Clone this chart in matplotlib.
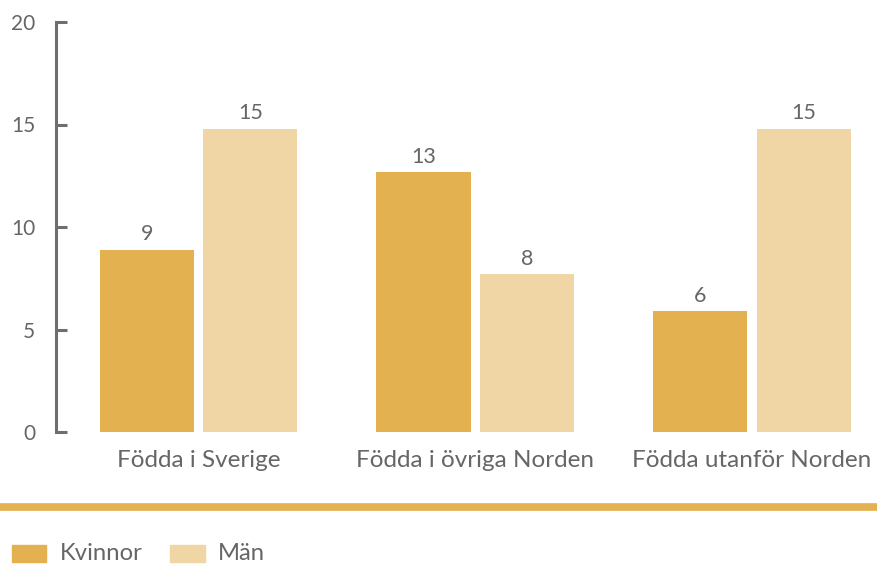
import matplotlib
matplotlib.use("Agg")
import matplotlib.pyplot as plt
from matplotlib.patches import Rectangle
from matplotlib.lines import Line2D
import numpy as np

categories = ["Födda i Sverige", "Födda i övriga Norden", "Födda utanför Norden"]
kvinnor = [8.9, 12.7, 5.9]
man = [14.8, 7.7, 14.8]
series_names = ["Kvinnor", "Män"]
yticks = [0, 5, 10, 15, 20]

c_dark = "#E3B14F"
c_light = "#F0D6A5"
c_text = "#666666"
c_axis = "#6E6E6E"

plt.rcParams['font.family'] = ['Lato', 'DejaVu Sans']

W, H = 877, 564
fig = plt.figure(figsize=(W / 100, H / 100), dpi=100)
ax_left, ax_right, ax_bottom, ax_top = 56, 877, 432, 22
ax = fig.add_axes([ax_left / W, (H - ax_bottom) / H,
                   (ax_right - ax_left) / W, (ax_bottom - ax_top) / H])

x = np.arange(len(categories))
bw = 0.34
off = 0.187
b1 = ax.bar(x - off, kvinnor, width=bw, color=c_dark)
b2 = ax.bar(x + off, man, width=bw, color=c_light)
for bars, vals in ((b1, kvinnor), (b2, man)):
    for b, v in zip(bars, vals):
        ax.text(b.get_x() + b.get_width() / 2, v + 0.25, f"{round(v)}",
                ha="center", va="bottom", fontsize=15.5, color=c_text)

ax.set_xlim(-0.515, 2.452)
ax.set_ylim(0, 20)
ax.set_yticks(yticks)
ax.set_yticklabels([str(t) for t in yticks])
ax.tick_params(axis="y", direction="in", length=8, width=2.2, color=c_axis,
               labelsize=15, labelcolor=c_text, pad=15)
ax.set_xticks(x)
ax.set_xticklabels(categories)
ax.tick_params(axis="x", length=0, labelsize=17.5, labelcolor=c_text, pad=13)
for s in ("top", "right", "bottom"):
    ax.spines[s].set_visible(False)
ax.spines["left"].set_color(c_axis)
ax.spines["left"].set_linewidth(2.2)

# gold separator line
fig.add_artist(Line2D([0, 1], [(H - 506.5) / H] * 2, color=c_dark, linewidth=5.5,
                      transform=fig.transFigure))

# legend
ly0 = (H - 562) / H
lh = 17 / H
fig.add_artist(Rectangle((12 / W, ly0), 34 / W, lh, color=c_dark, transform=fig.transFigure))
fig.text(60 / W, (H - 553) / H, series_names[0], fontsize=17.2, color=c_text, va="center")
fig.add_artist(Rectangle((170 / W, ly0), 35 / W, lh, color=c_light, transform=fig.transFigure))
fig.text(218 / W, (H - 553) / H, series_names[1], fontsize=17.2, color=c_text, va="center")

fig.savefig("out.png", dpi=100)
